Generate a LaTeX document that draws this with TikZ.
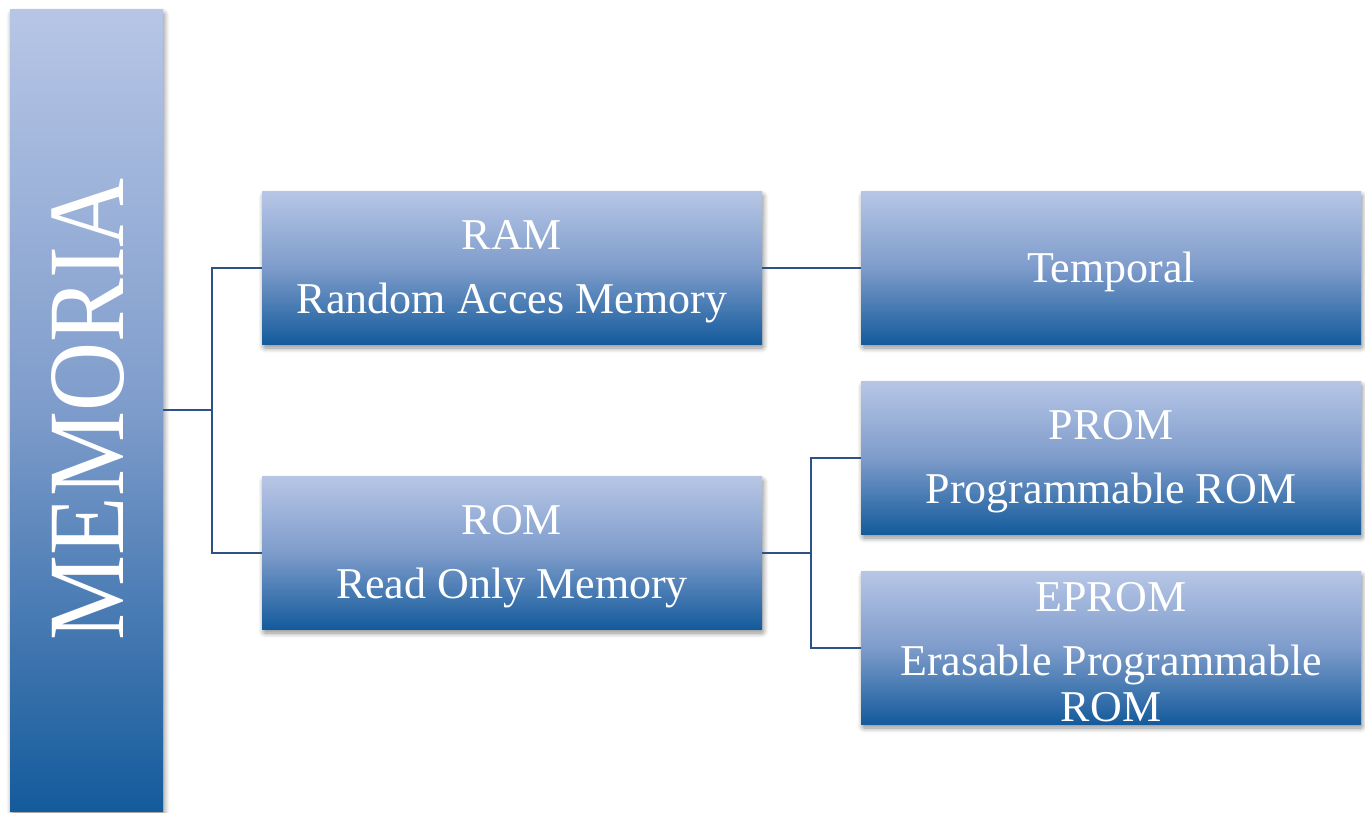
\documentclass[tikz,border=0pt]{standalone}
\usepackage{fontspec}
\setmainfont{Liberation Serif}
\usepackage{graphicx}
\usetikzlibrary{shadows.blur}
\definecolor{gtop}{RGB}{183,198,230}
\definecolor{gmid}{RGB}{126,156,203}
\definecolor{gbot}{RGB}{20,91,156}
\definecolor{linec}{RGB}{44,82,134}
\tikzset{
  box/.style={rectangle, inner sep=0pt, minimum width=500pt, minimum height=153pt,
    top color=gtop, bottom color=gbot, middle color=gmid, draw=none,
    blur shadow={shadow xshift=1.5pt, shadow yshift=-4pt, shadow blur steps=8,
      shadow blur extra rounding=1.5pt, shadow blur radius=5pt, shadow opacity=45}},
  lbl/.style={text=white, align=center, font=\fontsize{44}{46}\selectfont, inner sep=0pt, yshift=-4.5pt},
  conn/.style={draw=linec, line width=2pt},
}
\begin{document}
\begin{tikzpicture}[x=1pt,y=1pt]
\useasboundingbox (0,0) rectangle (1365,-812);
\node[box, minimum width=153pt, minimum height=802pt] (mem) at (86.5,-410) {};
\node[box] (ram) at (512,-267.5) {};
\node[box] (rom) at (512,-552.5) {};
\node[box] (temp) at (1111,-267.5) {};
\node[box] (prom) at (1111,-457.5) {};
\node[box] (eprom) at (1111,-647.5) {};

\node[text=white, rotate=90, inner sep=0pt] (memt) at (88,-409)
  {\fontsize{100}{100}\selectfont\resizebox{462pt}{72pt}{MEMORIA}};
\node[lbl] (ramt) at (ram.center) {RAM\\[18pt]Random Acces Memory};
\node[lbl] (romt) at (rom.center) {ROM\\[18pt]Read Only Memory};
\node[lbl] (tempt) at (temp.center) {Temporal};
\node[lbl] (promt) at (prom.center) {PROM\\[18pt]Programmable ROM};
\node[lbl] (epromt) at (eprom.center) {EPROM\\[18pt]Erasable Programmable\\ROM};

\draw[conn] (mem.east) -- ++(49,0) coordinate (j1);
\draw[conn] (j1) |- (ram.west);
\draw[conn] (j1) |- (rom.west);
\draw[conn] (ram.east) -- (temp.west);
\draw[conn] (rom.east) -- ++(49,0) coordinate (j2);
\draw[conn] (j2) |- (prom.west);
\draw[conn] (j2) |- (eprom.west);
\end{tikzpicture}
\end{document}
